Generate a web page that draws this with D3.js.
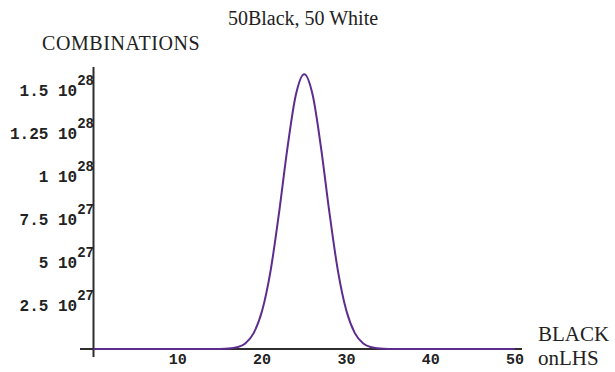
<!DOCTYPE html>
<html>
<head>
<meta charset="utf-8">
<script src="https://cdn.jsdelivr.net/npm/d3@7"></script>
<style>
  html, body { margin: 0; padding: 0; background: #fff; }
  svg { display: block; }
</style>
</head>
<body>
<div id="chart"></div>
<script>
// Number of black balls on the left-hand side (0..50)
const blackOnLHS = d3.range(0, 51);

// Ways to arrange 50 black + 50 white with k black on the LHS (C(50,k)^2)
const combinations = [
  0, 0, 0, 0, 0, 0, 0, 0, 0, 0,
  0, 0, 0, 1.26e23, 8.80e23, 5.07e24, 2.42e25, 9.70e25, 3.26e26, 9.25e26,
  2.22e27, 4.53e27, 7.88e27, 1.167e28, 1.477e28, 1.598e28, 1.477e28, 1.167e28, 7.88e27, 4.53e27,
  2.22e27, 9.25e26, 3.26e26, 9.70e25, 2.42e25, 5.07e24, 8.80e23, 1.26e23, 0, 0,
  0, 0, 0, 0, 0, 0, 0, 0, 0, 0,
  0
];

// Axis ticks and their labels
const xTicks = [10, 20, 30, 40, 50];
const yTicks = [2.5e27, 5e27, 7.5e27, 1e28, 1.25e28, 1.5e28];
const yTickMantissa = ["2.5", "5", "7.5", "1", "1.25", "1.5"];
const yTickExponent = ["27", "27", "27", "28", "28", "28"];

const titleText = "50Black, 50 White";
const yTitle = "COMBINATIONS";
const xTitle = ["BLACK", "onLHS"];

const W = 615, H = 372;
const svg = d3.select("#chart").append("svg")
  .attr("width", W).attr("height", H);

const x = d3.scaleLinear().domain([0, 50]).range([93.5, 515]);
const y = d3.scaleLinear().domain([0, 1.6e28]).range([349, 73.8]);

const axisColor = "#2e2e2e";
const curveColor = "#5d2c8f";
const monoFont = "'Liberation Mono', 'DejaVu Sans Mono', monospace";
const serifFont = "'Liberation Serif', 'DejaVu Serif', serif";

// x axis line
svg.append("line")
  .attr("x1", 80).attr("x2", 522)
  .attr("y1", y(0)).attr("y2", y(0))
  .attr("stroke", axisColor).attr("stroke-width", 2);

// y axis line
svg.append("line")
  .attr("x1", x(0)).attr("x2", x(0))
  .attr("y1", 67).attr("y2", 357)
  .attr("stroke", axisColor).attr("stroke-width", 2);

// x tick labels
svg.append("g").selectAll("text")
  .data(xTicks).join("text")
  .attr("x", d => x(d))
  .attr("y", 364)
  .attr("text-anchor", "middle")
  .attr("font-family", monoFont)
  .attr("font-weight", "bold")
  .attr("font-size", 15)
  .attr("fill", "#222")
  .text(d => d);

// y tick labels: mantissa, "10" and a raised exponent
const yl = svg.append("g").selectAll("text")
  .data(yTicks).join("text")
  .attr("x", x(0) + 0.5)
  .attr("y", d => y(d) + 5)
  .attr("text-anchor", "end")
  .attr("font-family", monoFont)
  .attr("font-weight", "bold")
  .attr("font-size", 16)
  .attr("fill", "#222");
yl.append("tspan").text((d, i) => yTickMantissa[i] + " 10");
yl.append("tspan")
  .attr("dy", -11)
  .attr("font-size", 14)
  .text((d, i) => yTickExponent[i]);

// data curve
const line = d3.line()
  .x((d, i) => x(blackOnLHS[i]))
  .y(d => y(d))
  .curve(d3.curveMonotoneX);

svg.append("path")
  .datum(combinations)
  .attr("d", line)
  .attr("fill", "none")
  .attr("stroke", curveColor)
  .attr("stroke-width", 2)
  .attr("stroke-linejoin", "round");

// titles
svg.append("text")
  .attr("x", 303).attr("y", 25)
  .attr("text-anchor", "middle")
  .attr("font-family", serifFont)
  .attr("font-size", 20)
  .attr("fill", "#222")
  .text(titleText);

svg.append("text")
  .attr("x", 42).attr("y", 50)
  .attr("font-family", serifFont)
  .attr("font-size", 20)
  .attr("letter-spacing", 0.6)
  .attr("fill", "#222")
  .text(yTitle);

svg.append("text")
  .attr("x", 538).attr("y", 341)
  .attr("font-family", serifFont)
  .attr("font-size", 21)
  .attr("fill", "#222")
  .text(xTitle[0]);

svg.append("text")
  .attr("x", 538).attr("y", 365)
  .attr("font-family", serifFont)
  .attr("font-size", 21)
  .attr("fill", "#222")
  .text(xTitle[1]);
</script>
</body>
</html>
